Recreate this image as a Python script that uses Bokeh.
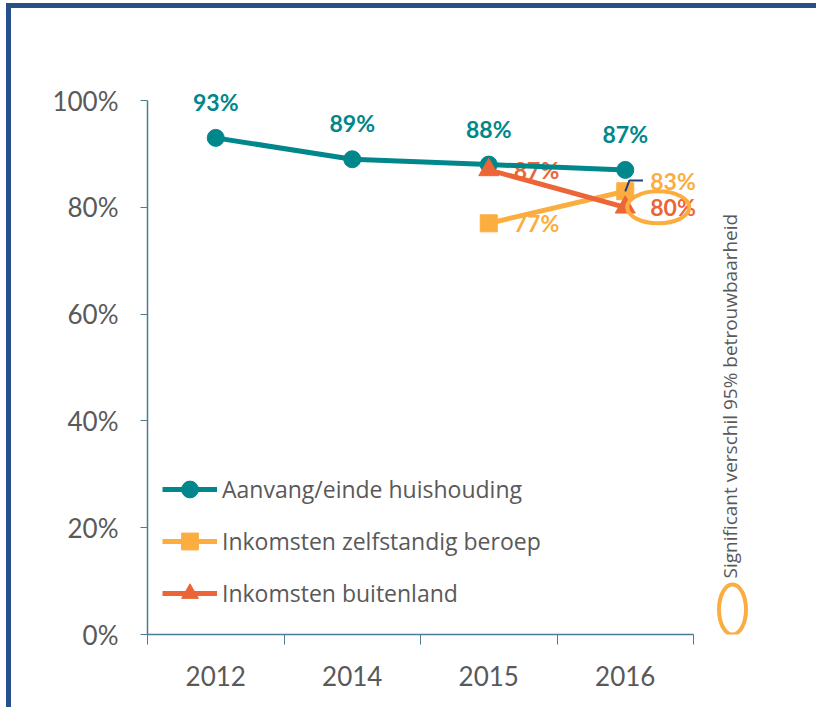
import math
from bokeh.plotting import figure
from bokeh.models import Range1d, FixedTicker, Legend, LegendItem, PrintfTickFormatter
from bokeh.core.properties import value
from bokeh.embed import file_html
from bokeh.resources import INLINE

# ---- data ----
years = ["2012", "2014", "2015", "2016"]
huishouding = [93, 89, 88, 87]
zelfstandig = [None, None, 77, 83]
buitenland = [None, None, 87, 80]
series_names = ["Aanvang/einde huishouding", "Inkomsten zelfstandig beroep", "Inkomsten buitenland"]
y_ticks = [0, 20, 40, 60, 80, 100]
note_text = "Significant verschil 95% betrouwbaarheid"

TEAL = "#00878C"
YEL = "#FBAE3F"
RED = "#EC6536"
AXIS = "#4A7C94"
GREY = "#595959"
FRAME = "#27508A"

def pts(vals):
    xs, ys = [], []
    for i, v in enumerate(vals):
        if v is not None:
            xs.append(i + 0.5)
            ys.append(v)
    return xs, ys

n = len(years)
px_per_x = 136.5
frame_w = 664
frame_h = 594
px_per_y = 5.34

p = figure(frame_width=frame_w, frame_height=frame_h,
           min_border_left=136, min_border_right=5, min_border_top=32, min_border_bottom=73,
           x_range=Range1d(0, frame_w / px_per_x), y_range=Range1d(0, 100 + 60 / px_per_y),
           output_backend="svg", toolbar_location=None, tools="")
p.styles = {"margin-top": "3px", "margin-left": "6px",
            "border-top": f"5px solid {FRAME}", "border-left": f"5px solid {FRAME}"}
p.outline_line_color = None
p.xgrid.visible = False
p.ygrid.visible = False
p.background_fill_color = "white"
p.border_fill_color = "white"

# axes
xa = p.xaxis[0]
xa.ticker = FixedTicker(ticks=[i + 0.5 for i in range(n)], minor_ticks=list(range(n + 1)))
xa.major_label_overrides = {i + 0.5: y for i, y in enumerate(years)}
xa.bounds = (0, n)
xa.major_tick_out = 0
xa.major_tick_in = 0
xa.minor_tick_out = 10
xa.minor_tick_in = 0
xa.minor_tick_line_color = AXIS
xa.axis_line_color = AXIS
xa.axis_line_width = 1.5
xa.major_label_text_font = "Lato"
xa.major_label_text_font_size = "26px"
xa.major_label_text_color = GREY
xa.major_label_standoff = 21

ya = p.yaxis[0]
ya.ticker = FixedTicker(ticks=y_ticks, minor_ticks=[])
ya.formatter = PrintfTickFormatter(format="%d%%")
ya.bounds = (0, 100)
ya.major_tick_out = 7
ya.major_tick_in = 0
ya.major_tick_line_color = AXIS
ya.axis_line_color = AXIS
ya.axis_line_width = 1.5
ya.major_label_text_font = "Lato"
ya.major_label_text_font_size = "26px"
ya.major_label_text_color = GREY
ya.major_label_standoff = 22

# data labels (drawn below lines)
hx, hy = pts(huishouding)
zx, zy = pts(zelfstandig)
bx, by = pts(buitenland)

p.text(hx, hy, text=[f"{v}%" for v in hy], text_align="center", text_baseline="middle",
       y_offset=-36, text_font=value("Lato"), text_font_style="bold",
       text_font_size="23px", text_color=TEAL)
p.text(bx, by, text=[f"{v}%" for v in by], text_align="left", text_baseline="middle",
       x_offset=25, text_font=value("Lato"), text_font_style="bold",
       text_font_size="23px", text_color=RED)
p.text(zx, zy, text=[f"{v}%" for v in zy], text_align="left", text_baseline="middle",
       x_offset=25, y_offset=[0, -10], text_font=value("Lato"), text_font_style="bold",
       text_font_size="23px", text_color=YEL)

# lines + markers
r_hl = p.line(hx, hy, line_color=TEAL, line_width=5)
r_zl = p.line(zx, zy, line_color=YEL, line_width=5)
r_bl = p.line(bx, by, line_color=RED, line_width=5)
r_hm = p.scatter(hx, hy, marker="circle", size=17, fill_color=TEAL, line_color=TEAL)
r_zm = p.scatter(zx, zy, marker="square", size=17, fill_color=YEL, line_color=YEL)
r_bm = p.scatter(bx, by, marker="triangle", size=20, fill_color=RED, line_color=RED)

# small leader line near 2016 square
p.line([zx[-1], zx[-1] + 0.03, zx[-1] + 0.13], [zy[-1], zy[-1] + 2, zy[-1] + 2],
       line_color="#1F3F7A", line_width=2)

# significance ellipse around 80%
p.ellipse(x=[bx[-1] + 33 / px_per_x], y=[by[-1]], width=62, height=32,
          width_units="screen", height_units="screen",
          fill_color=None, line_color=YEL, line_width=4)

# note ellipse + rotated text
note_x = n + 39 / px_per_x
p.ellipse(x=[note_x], y=[25 / px_per_y], width=27, height=50,
          width_units="screen", height_units="screen",
          fill_color=None, line_color=YEL, line_width=4)
p.text([note_x - 3 / px_per_x], [56 / px_per_y], text=[note_text], angle=math.pi / 2,
       text_align="left", text_baseline="middle", text_font=value("Open Sans"),
       text_font_size="19px", text_color=GREY)

legend = Legend(items=[
    LegendItem(label=series_names[0], renderers=[r_hl, r_hm]),
    LegendItem(label=series_names[1], renderers=[r_zl, r_zm]),
    LegendItem(label=series_names[2], renderers=[r_bl, r_bm]),
], location=(15, 20), orientation="vertical")
legend.glyph_width = 55
legend.glyph_height = 42
legend.label_height = 42
legend.spacing = 10
legend.padding = 0
legend.margin = 0
legend.label_standoff = 5
legend.border_line_color = None
legend.background_fill_alpha = 0
legend.label_text_font = "Open Sans"
legend.label_text_font_size = "23px"
legend.label_text_color = GREY
p.add_layout(legend, "center")

open("out.html", "w").write(file_html(p, INLINE))
